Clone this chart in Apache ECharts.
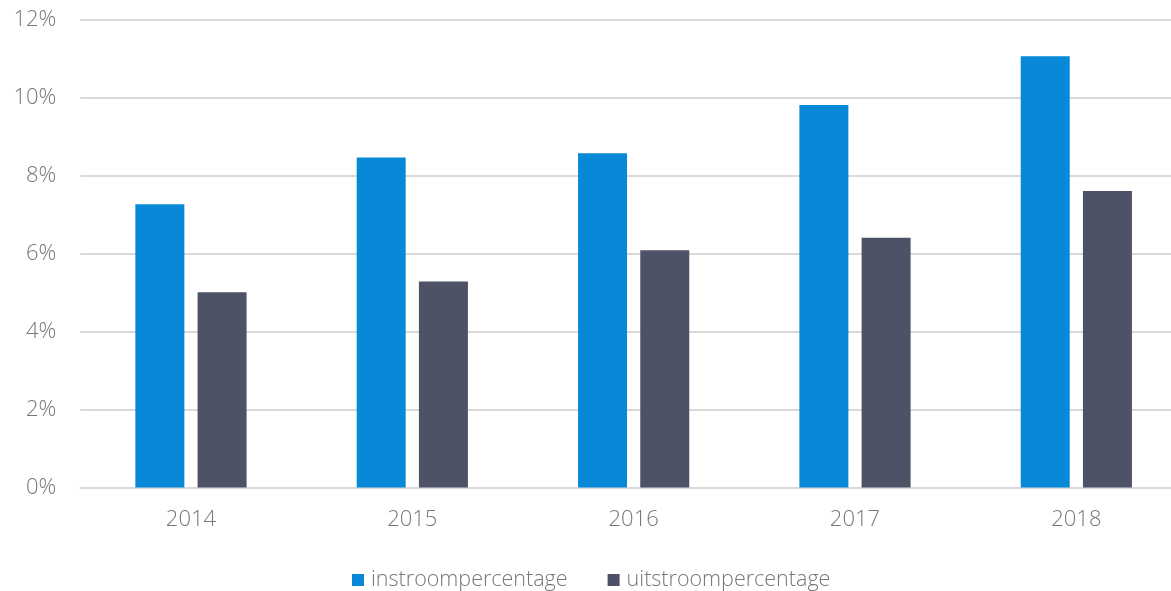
<!DOCTYPE html>
<html>
<head>
<meta charset="utf-8">
<script src="https://cdn.jsdelivr.net/npm/echarts@6/dist/echarts.min.js"></script>
<style>html,body{margin:0;padding:0;background:#fff;overflow:hidden;}#c{width:1171px;height:591px;}</style>
</head>
<body>
<div id="c"></div>
<script>
const categories = ['2014', '2015', '2016', '2017', '2018'];
const instroom = [7.27, 8.47, 8.58, 9.82, 11.07];
const uitstroom = [5.01, 5.29, 6.09, 6.41, 7.61];
const seriesNames = ['instroompercentage', 'uitstroompercentage'];
const yTicks = [0, 2, 4, 6, 8, 10, 12];

const chart = echarts.init(document.getElementById('c'), null, {renderer: 'canvas'});
const font = '"Open Sans", "Noto Sans", sans-serif';
const txt = '#777777';
chart.setOption({
  animation: false,
  backgroundColor: '#ffffff',
  grid: {left: 80.3, width: 1106.7, top: 20, height: 467.5, containLabel: false, outerBoundsMode: 'none'},
  legend: {
    data: seriesNames,
    top: 564,
    left: 347,
    itemWidth: 12, itemHeight: 12, itemGap: 40,
    icon: 'rect',
    textStyle: {color: txt, fontSize: 21.5, fontFamily: font, fontWeight: 300, padding: [0, 0, 0, 2]}
  },
  xAxis: {
    type: 'category',
    data: categories,
    axisLine: {show: true, lineStyle: {color: '#d9d9d9', width: 2}},
    axisTick: {show: false},
    axisLabel: {color: txt, fontSize: 22, fontFamily: font, fontWeight: 300, margin: 21}
  },
  yAxis: {
    type: 'value',
    min: yTicks[0], max: yTicks[yTicks.length - 1], interval: 2,
    axisLine: {show: false},
    axisTick: {show: false},
    splitLine: {lineStyle: {color: '#d9d9d9', width: 2}},
    axisLabel: {color: txt, fontSize: 22, fontFamily: font, fontWeight: 300, margin: 24,
      formatter: v => v + '%'}
  },
  series: [
    {name: seriesNames[0], type: 'bar', data: instroom, barWidth: 49, barGap: '27%',
     itemStyle: {color: '#0889d8'}},
    {name: seriesNames[1], type: 'bar', data: uitstroom, barWidth: 49, barGap: '27%',
     itemStyle: {color: '#4e5266'}}
  ]
});
</script>
</body>
</html>
